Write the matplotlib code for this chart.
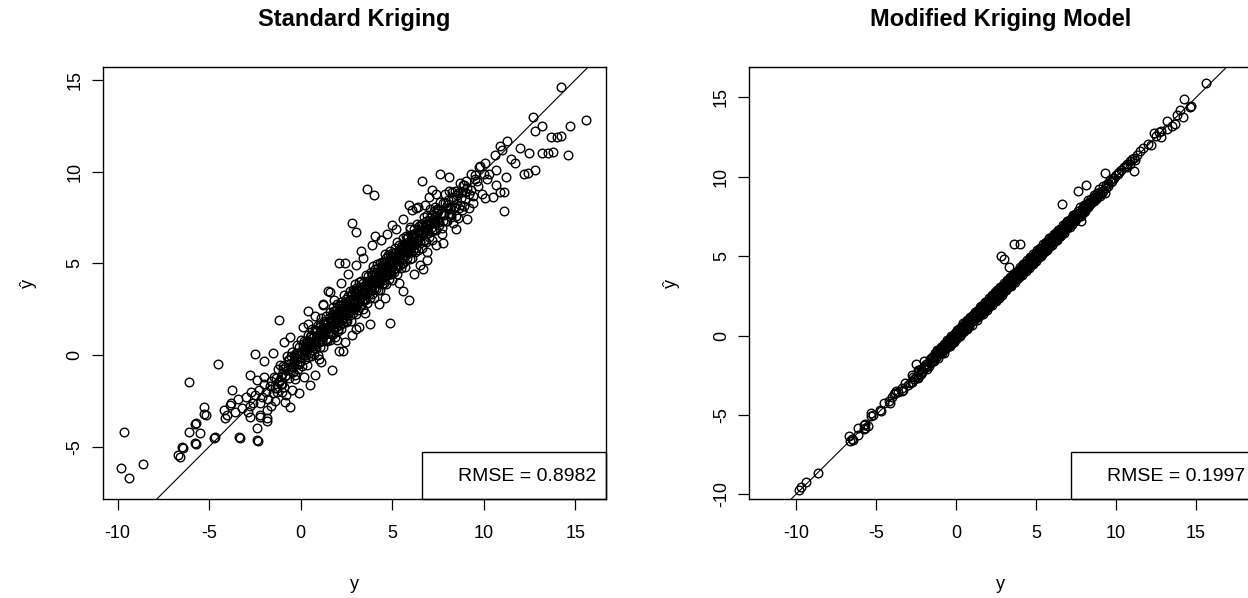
import numpy as np
import matplotlib.pyplot as plt
from matplotlib.patches import Rectangle

plt.rcParams['font.family'] = ['Liberation Sans', 'DejaVu Sans']
plt.rcParams['axes.unicode_minus'] = False

# ===================== Dados =====================
# pontos afastados da diagonal: y observado, y previsto (padrao), y previsto (modificado)
OUT_Y = [15.6, 14.23, 14.7, 12.7, 12.8, 13.2, 13.7, 14.0, 14.2, 12.0,
         12.5, 13.2, 13.5, 13.8, 14.6, 12.2, 12.4, 12.8, 11.1, 11.3,
         10.9, 11.5, 11.7, 11.2, 9.9, 10.1, 10.5, 10.9, 11.1,
         6.65, 7.6, 8.1, 7.4, 5.9, 6.4, 9.8, 10.1, 10.7, 10.2,
         7.8, 8.5, 9.1, 4.7, 10.6, 11.0, 10.3, 10.7, 9.5, 9.3,
         9.7, 10.0, 8.9, 9.0, 9.4, 8.7, 8.2, 8.0, 8.8,
         3.6, 4.0, 2.8, 3.0, 2.1, 2.4, -1.2, -2.5, -1.5, 4.05,
         5.9, 4.9, 6.9, 1.5, 3.3, 5.2, 6.3, 6.7, 6.5, 3.8,
         3.2, 2.4, 2.1, 1.2, 0.4,
         -4.5, -6.1, -2.0, -3.76, -5.3, -5.2, -5.7, -6.1, -5.5, -5.7,
         -6.5, -6.7, -4.7, -4.2, -3.86, -4.13, -3.35, -2.4, -2.4, -2.76,
         -2.2, -1.85, -0.6, 0.5, 1.7, 1.6, 0.4, 1.2, 1.96, 2.3,
         3.05, -2.76, -2.4, -9.67, -9.8, -9.36, -8.64, -6.6, -6.45, -5.76,
         -5.76, -5.3, -4.73, -4.0, -3.6, -3.8, -3.3, -2.35, -1.82, -2.76,
         -2.2, -1.85, -2.6, -0.86,
         -2.5, -2.3, -2.1, -1.9, -1.7, -1.5, -1.3, -2.0, -1.8, -1.6,
         -1.2, -2.2, -1.4, -1.0, -1.1, -2.7, -3.0, -3.2, -2.9, -1.6,
         -1.0, -0.8, -0.5, -0.3, -0.1, 0.2, 0.8, 1.1, -3.4, -2.0,
         -0.9, -0.6, 0.1, 0.8, 1.8, 2.2, 2.6, 3.0, 3.4, 3.9,
         4.4, 5.0, 5.6, 6.1, 7.0, 7.2, 6.8, 6.0, 1.0, 2.8,
         3.5, 4.3, 4.6, 5.4, 5.6, 6.2, 6.9, 7.4, 7.7, 8.3,
         8.6, 9.2]

OUT_STD = [12.8, 14.64, 12.5, 13.0, 12.2, 12.5, 11.9, 11.9, 11.95, 11.3,
           11.0, 11.0, 11.0, 11.1, 10.9, 9.9, 9.95, 10.1, 7.86, 11.7,
           11.4, 10.7, 10.5, 9.7, 8.8, 8.55, 8.6, 8.9, 8.9,
           9.5, 9.9, 9.7, 8.8, 8.2, 8.1, 10.3, 10.5, 10.1, 9.6,
           6.1, 6.9, 7.4, 6.6, 10.9, 11.2, 9.9, 9.3, 9.6, 9.0,
           9.2, 9.9, 9.3, 8.5, 8.3, 8.2, 7.7, 7.3, 7.9,
           9.06, 8.73, 7.2, 6.7, 5.0, 5.0, 1.9, 0.04, 0.1, 6.5,
           3.0, 1.76, 5.2, 3.5, 5.7, 6.9, 8.0, 4.7, 4.9, 1.7,
           1.5, 0.7, 0.2, 2.8, 2.4,
           -0.5, -1.5, -0.33, -1.9, -2.85, -3.27, -3.73, -4.18, -4.27, -4.86,
           -5.04, -5.46, -4.5, -3.0, -2.73, -3.45, -4.46, -4.64, -4.0, -2.8,
           -3.4, -3.45, -2.85, -1.64, -0.8, 3.45, 1.7, 2.7, 0.8, 0.2,
           1.4, -1.1, -1.36, -4.18, -6.15, -6.73, -5.95, -5.55, -5.09, -3.76,
           -4.82, -3.22, -4.55, -3.27, -3.1, -2.6, -4.55, -4.7, -3.58, -3.37,
           -3.27, -3.0, -2.64, -2.55,
           -2.2, -1.9, -2.3, -2.0, -1.7, -2.1, -1.8, -1.6, -2.4, -1.4,
           -1.5, -2.6, -2.5, -2.0, -1.2, -2.0, -2.3, -2.9, -3.1, -2.8,
           -1.6, -2.2, -1.9, -1.3, -2.1, -1.2, -1.1, -0.4, -2.4, -1.2,
           0.7, 1.0, 1.5, 2.1, 3.0, 3.9, 4.4, 4.9, 5.3, 6.0,
           6.3, 7.1, 7.4, 7.9, 8.6, 9.0, 8.2, 7.0, -0.2, 1.1,
           2.3, 2.8, 3.1, 3.9, 3.5, 4.4, 5.6, 6.0, 6.6, 7.2,
           7.5, 8.0]

OUT_MOD = [15.9, 14.9, 14.45, 12.8, 12.9, 13.0, 13.3, 14.2, 13.75, 12.1,
           12.6, 13.5, 13.2, 13.9, 14.4, 12.0, 12.75, 12.5, 10.35, 11.4,
           11.0, 11.6, 11.8, 11.05, 9.95, 10.2, 10.6, 10.8, 11.2,
           8.3, 9.1, 9.5, 7.6, 6.1, 6.5, 9.9, 10.25, 10.8, 10.3,
           7.2, 8.4, 9.0, 4.8, 10.7, 11.1, 10.4, 10.6, 9.6, 10.27,
           9.7, 10.1, 9.0, 8.95, 9.3, 8.65, 8.1, 7.9, 8.7,
           5.75, 5.75, 5.0, 4.8, 2.3, 2.6, -1.0, -1.8, -1.4, 4.2,
           5.7, 4.7, 6.8, 1.7, 4.35, 5.3, 6.4, 6.6, 6.3, 3.6,
           3.0, 2.2, 1.9, 1.4, 0.6,
           -4.25, -5.85, -1.6, -3.5, -4.9, -5.0, -5.6, -6.25, -5.7, -5.85,
           -6.55, -6.3, -4.75, -4.1, -3.7, -4.25, -3.5, -2.7, -2.6, -2.9,
           -2.4, -2.0, -0.8, 0.3, 1.5, 1.8, 0.5, 1.3, 1.8, 2.1,
           2.9, -2.5, -2.2, -9.54, -9.75, -9.23, -8.67, -6.67, -6.58, -5.63,
           -5.9, -5.06, -4.69, -3.85, -3.54, -3.6, -3.44, -2.5, -2.1, -2.9,
           -2.3, -1.9, -2.75, -1.0,
           -2.6, -2.2, -2.3, -1.8, -1.9, -1.6, -1.2, -2.1, -1.9, -1.5,
           -1.3, -2.1, -1.6, -1.1, -1.0, -2.6, -3.1, -3.0, -3.0, -1.7,
           -0.9, -0.9, -0.6, -0.2, -0.3, 0.1, 0.7, 1.0, -3.3, -1.9,
           -0.8, -0.5, 0.2, 0.9, 1.9, 2.3, 2.7, 3.1, 3.5, 4.0,
           4.5, 5.1, 5.7, 6.2, 7.1, 7.3, 6.9, 6.1, 0.9, 2.7,
           3.4, 4.2, 4.5, 5.3, 5.5, 6.1, 6.8, 7.3, 7.6, 8.2,
           8.5, 9.1]

# nucleo denso ao longo da diagonal: y observado e residuos de cada modelo
CORE_Y = [-1.48, -1.42, -1.37, -1.31, -1.25, -1.2, -1.14, -1.09, -1.03, -0.98,
          -0.93, -0.88, -0.83, -0.77, -0.72, -0.68, -0.63, -0.59, -0.55, -0.51,
          -0.48, -0.45, -0.41, -0.38, -0.35, -0.31, -0.28, -0.24, -0.21, -0.18,
          -0.14, -0.11, -0.07, -0.04, -0.01, 0.03, 0.06, 0.09, 0.13, 0.16,
          0.2, 0.23, 0.26, 0.3, 0.33, 0.37, 0.4, 0.43, 0.46, 0.49,
          0.52, 0.55, 0.58, 0.61, 0.63, 0.66, 0.69, 0.72, 0.75, 0.78,
          0.81, 0.83, 0.86, 0.89, 0.92, 0.95, 0.98, 1.01, 1.03, 1.06,
          1.09, 1.12, 1.15, 1.18, 1.21, 1.23, 1.26, 1.29, 1.32, 1.35,
          1.38, 1.41, 1.43, 1.46, 1.49,
          1.52, 1.54, 1.57, 1.59, 1.62, 1.64, 1.67, 1.69, 1.72, 1.74,
          1.77, 1.79, 1.82, 1.84, 1.87, 1.89, 1.92, 1.94, 1.97, 1.99,
          2.02, 2.04, 2.07, 2.09, 2.12, 2.14, 2.17, 2.19, 2.22, 2.24,
          2.27, 2.29, 2.32, 2.34, 2.37, 2.39, 2.42, 2.44, 2.47, 2.49,
          2.52, 2.55, 2.57, 2.6, 2.62, 2.65, 2.67, 2.7, 2.72, 2.75,
          2.77, 2.8, 2.82, 2.85, 2.87, 2.9, 2.92, 2.95, 2.97, 3.0,
          3.02, 3.05, 3.07, 3.1, 3.12, 3.15, 3.17, 3.2, 3.22, 3.25,
          3.27, 3.3, 3.32, 3.35, 3.37, 3.4, 3.42, 3.45, 3.47, 3.5,
          3.53, 3.55, 3.58, 3.6, 3.63, 3.65, 3.68, 3.7, 3.73, 3.75,
          3.78, 3.8, 3.83, 3.85, 3.88, 3.9, 3.93, 3.95, 3.98, 4.0,
          4.03, 4.05, 4.08, 4.1, 4.13, 4.15, 4.18, 4.2, 4.23, 4.25,
          4.28, 4.3, 4.33, 4.35, 4.38, 4.4, 4.43, 4.45, 4.47, 4.49,
          4.51, 4.54, 4.56, 4.59, 4.61, 4.64, 4.66, 4.69, 4.71, 4.74,
          4.76, 4.79, 4.81, 4.84, 4.86, 4.89, 4.91, 4.94, 4.96, 4.99,
          5.01, 5.04, 5.06, 5.09, 5.11, 5.14, 5.16, 5.19, 5.21, 5.24,
          5.26, 5.29, 5.31, 5.34, 5.36, 5.39, 5.41, 5.44, 5.46, 5.49,
          5.52, 5.55, 5.58, 5.61, 5.63, 5.66, 5.69, 5.72, 5.75, 5.78,
          5.81, 5.83, 5.86, 5.89, 5.92, 5.95, 5.98, 6.01, 6.03, 6.06,
          6.09, 6.12, 6.15, 6.18, 6.21, 6.23, 6.26, 6.29, 6.32, 6.35,
          6.38, 6.41, 6.43, 6.46, 6.49,
          6.53, 6.56, 6.6, 6.63, 6.66, 6.7, 6.73, 6.76, 6.8, 6.83,
          6.86, 6.9, 6.93, 6.96, 7.0, 7.03, 7.06, 7.1, 7.13, 7.16,
          7.2, 7.23, 7.26, 7.3, 7.33, 7.36, 7.4, 7.43, 7.46, 7.49,
          7.53, 7.58, 7.63, 7.68, 7.73, 7.78, 7.83, 7.88, 7.93, 7.98,
          8.03, 8.08, 8.13, 8.18, 8.23, 8.28, 8.33, 8.38, 8.43, 8.48,
          8.55, 8.63, 8.7, 8.78, 8.86, 8.93, 9.01, 9.1, 9.2, 9.3,
          9.4, 9.5, 9.62, 9.75]

CORE_STD_RES = [0.3, -0.4, 0.1, -0.7, 0.5, -0.2, 0.6, -0.5, 0.0, 0.4,
                -0.8, 0.2, -0.3, 0.7, -0.1, 0.4, -0.6, 0.1, 0.5, -0.3,
                -0.2, 0.6, -0.5, 0.3, 0.0, -0.8, 0.4, 0.1, -0.3, 0.7,
                -0.6, 0.2, 0.5, -0.1, -0.4, 0.8, 0.0, -0.7, 0.3, 0.6,
                -0.2, 0.1, -0.5, 0.4, -0.9, 0.2, 0.7, -0.3, 0.0, 0.5,
                0.2, -0.6, 0.5, -0.1, 0.8, -0.4, 0.0, 0.3, -0.7, 0.6,
                -0.2, 0.1, -0.5, 0.4, -0.9, 0.7, 0.0, -0.3, 0.5, -0.6,
                0.2, 0.9, -0.1, -0.4, 0.3, -0.8, 0.6, 0.1, -0.2, 0.4,
                -0.5, 0.7, 0.0, -0.7, 0.3,
                -0.3, 0.5, 0.0, -0.8, 0.7, 0.2, -0.5, 0.4, -0.1, 0.9,
                -0.6, 0.1, 0.6, -0.4, 0.3, -0.9, 0.0, 0.5, -0.2, 0.8,
                -0.7, 0.2, 0.4, -0.3, 0.6, -0.5, 0.1, 0.7, -0.8, 0.3,
                -0.1, 0.5, -0.6, 0.0, 0.9, -0.4, 0.2, -0.2, 0.6, -0.7,
                0.4, -0.7, 0.1, 0.6, -0.3, 0.0, 0.8, -0.5, 0.3, -0.9,
                0.5, -0.2, 0.2, 0.7, -0.6, 0.1, -0.4, 0.9, -0.1, 0.4,
                -0.8, 0.6, 0.0, -0.3, 0.5, -0.7, 0.3, 0.8, -0.5, -0.1,
                0.2, -0.6, 0.7, 0.0, -0.4, 0.5, -0.9, 0.3, 0.1, -0.2,
                -0.5, 0.2, 0.8, -0.2, 0.4, -0.8, 0.1, 0.6, -0.4, 0.3,
                0.0, -0.7, 0.7, -0.1, 0.5, -0.6, 0.2, 0.9, -0.3, 0.4,
                -0.9, 0.1, 0.6, -0.5, 0.3, 0.8, -0.2, 0.0, -0.7, 0.5,
                0.2, -0.4, 0.7, -0.8, 0.1, 0.4, -0.1, 0.6, -0.6, 0.3,
                0.1, -0.6, 0.5, 0.9, -0.3, 0.2, -0.8, 0.6, 0.0, -0.4,
                0.7, -0.1, 0.3, -0.7, 0.4, 0.8, -0.5, 0.1, -0.2, 0.6,
                -0.9, 0.3, 0.0, 0.5, -0.6, 0.2, 0.7, -0.3, 0.4, -0.8,
                0.1, 0.9, -0.4, 0.2, -0.1, 0.6, -0.5, 0.3, -0.7, 0.0,
                0.5, -0.2, 0.8, -0.6, 0.1, 0.4, -0.9, 0.3, -0.1, 0.7,
                -0.5, 0.0, 0.6, -0.3, 0.2, -0.7, 0.9, 0.1, -0.4, 0.5,
                -0.8, 0.3, 0.0, 0.7, -0.2, -0.6, 0.4, 0.1, -0.5, 0.8,
                -0.1, 0.3, -0.7, 0.6, 0.2,
                -0.4, 0.6, 0.1, -0.8, 0.4, -0.1, 0.8, -0.5, 0.2, 0.5,
                -0.7, 0.0, 0.7, -0.3, 0.3, -0.6, 0.9, 0.1, -0.2, 0.5,
                -0.9, 0.2, 0.6, -0.4, 0.0, 0.7, -0.6, 0.3, -0.1, 0.4,
                0.3, -0.5, 0.7, 0.0, -0.8, 0.5, -0.2, 0.9, -0.6, 0.2,
                0.4, -0.4, 0.8, -0.1, -0.7, 0.6, 0.1, -0.3, 0.5, -0.9,
                0.2, -0.6, 0.7, -0.2, 0.4, -0.8, 0.5, 0.0, -0.4, 0.6,
                -0.7, 0.3, -0.1, 0.5]

CORE_MOD_RES = [0.1, -0.2, 0.0, 0.2, -0.1, 0.3, -0.3, 0.1, -0.1, 0.0,
                0.2, -0.2, 0.1, -0.3, 0.2, 0.0, -0.1, 0.3, -0.2, 0.1,
                0.0, 0.2, -0.1, -0.3, 0.1, 0.3, -0.2, 0.0, 0.2, -0.1,
                0.1, -0.3, 0.2, 0.0, -0.2, 0.1, 0.3, -0.1, 0.0, -0.2,
                0.2, 0.1, -0.3, 0.0, 0.2, -0.1, 0.1, -0.2, 0.3, 0.0,
                -0.1, 0.2, 0.0, -0.2, 0.1, 0.3, -0.3, 0.1, -0.1, 0.2,
                0.0, -0.2, 0.3, -0.1, 0.1, 0.0, -0.3, 0.2, -0.1, 0.1,
                0.0, 0.2, -0.2, 0.3, -0.1, 0.0, 0.1, -0.3, 0.2, -0.1,
                0.0, 0.2, -0.2, 0.1, 0.3,
                0.2, -0.1, 0.0, 0.3, -0.2, 0.1, -0.3, 0.0, 0.2, -0.1,
                0.1, 0.3, -0.2, 0.0, -0.1, 0.2, 0.1, -0.3, 0.0, 0.2,
                -0.2, 0.1, 0.3, -0.1, 0.0, -0.2, 0.2, 0.1, -0.3, 0.0,
                0.3, -0.1, 0.1, -0.2, 0.0, 0.2, -0.1, 0.3, -0.3, 0.1,
                -0.2, 0.1, 0.3, 0.0, -0.1, 0.2, -0.3, 0.1, 0.0, -0.2,
                0.3, -0.1, 0.2, 0.0, -0.3, 0.1, -0.1, 0.2, 0.0, 0.3,
                -0.2, 0.1, -0.1, 0.0, 0.2, -0.3, 0.1, 0.3, -0.1, 0.0,
                0.2, -0.2, 0.1, -0.1, 0.3, 0.0, -0.3, 0.2, -0.1, 0.1,
                0.0, 0.3, -0.2, 0.1, -0.1, 0.2, 0.0, -0.3, 0.3, 0.1,
                -0.2, 0.0, 0.2, -0.1, 0.1, -0.3, 0.0, 0.2, -0.2, 0.3,
                0.1, -0.1, 0.0, 0.2, -0.3, 0.1, -0.1, 0.3, 0.0, -0.2,
                0.2, 0.1, -0.1, 0.0, -0.3, 0.2, 0.3, -0.2, 0.1, 0.0,
                0.1, -0.3, 0.2, 0.0, -0.1, 0.3, -0.2, 0.1, 0.0, 0.2,
                -0.1, -0.3, 0.3, 0.1, 0.0, -0.2, 0.2, -0.1, 0.1, 0.0,
                -0.3, 0.2, 0.3, -0.1, 0.0, 0.1, -0.2, 0.2, -0.1, 0.3,
                0.0, -0.3, 0.1, 0.2, -0.2, 0.0, 0.1, -0.1, 0.3, -0.2,
                -0.1, 0.2, 0.0, 0.3, -0.2, 0.1, -0.3, 0.0, 0.2, -0.1,
                0.1, 0.3, -0.2, 0.0, 0.2, -0.1, -0.3, 0.1, 0.0, 0.2,
                -0.2, 0.3, 0.1, -0.1, 0.0, -0.2, 0.2, 0.1, -0.3, 0.0,
                0.3, -0.1, 0.1, 0.0, -0.2,
                0.2, 0.0, -0.2, 0.1, 0.3, -0.1, 0.0, -0.3, 0.2, 0.1,
                -0.1, 0.0, 0.3, -0.2, 0.1, 0.2, -0.1, 0.0, -0.3, 0.2,
                0.1, -0.2, 0.0, 0.3, -0.1, 0.1, 0.2, -0.2, 0.0, -0.1,
                0.1, -0.2, 0.2, 0.0, -0.1, 0.3, -0.3, 0.1, 0.0, -0.2,
                0.2, 0.1, -0.1, 0.0, 0.3, -0.2, 0.1, -0.1, 0.2, 0.0,
                -0.1, 0.2, 0.0, -0.2, 0.1, 0.3, -0.1, 0.0, 0.2, -0.3,
                0.1, -0.1, 0.2, 0.0]

# segundo lote do nucleo, onde a nuvem e mais escura
CORE2_Y = [-0.95, -0.8, -0.66, -0.52, -0.37, -0.22, -0.08, 0.05, 0.12, 0.19,
           0.27, 0.34, 0.41, 0.47, 0.56, 0.63, 0.71, 0.77, 0.84, 0.92,
           0.99, 1.07, 1.13, 1.2, 1.28, 1.36, 1.42, 1.5, 1.57, 1.63,
           1.71, 1.78, 1.86, 1.93, 2.01, 2.08, 2.15, 2.23, 2.31, 2.38,
           2.45, 2.53, 2.6, 2.68, 2.74, 2.81, 2.89, 2.96, 3.04, 3.11,
           3.18, 3.26, 3.33, 3.41, 3.48, 3.55, 3.62, 3.7, 3.77, 3.84,
           3.92, 3.99, 4.06, 4.14, 4.21, 4.29, 4.36, 4.43, 4.51, 4.58,
           4.65, 4.73, 4.8, 4.88, 4.95, 5.02, 5.1, 5.17, 5.25, 5.32,
           5.39, 5.47, 5.54, 5.61, 5.69, 5.76, 5.84, 5.91, 5.98, 6.06,
           6.13, 6.21, 6.28, 6.35, 6.43, 6.5, 6.57, 6.65, 6.72, 6.8,
           6.87, 6.94, 7.02, 7.09, 7.17, 7.24, 7.31, 7.39, 7.46, 7.55,
           7.66, 7.79, 7.91, 8.04, 8.17, 8.31, 8.46, 8.62, 8.8, 9.0,
           1.04, 1.46, 1.82, 2.27, 2.64, 3.07, 3.52, 3.88, 4.33, 4.69,
           5.06, 5.43, 5.8, 6.17, 6.54, 0.68, 2.02, 3.3, 4.47, 5.58,
           1.25, 2.5, 3.75, 4.9, 6.0, 0.3, 1.6, 2.9, 4.1, 5.3]

CORE2_STD_RES = [0.2, -0.3, 0.4, -0.1, 0.0, 0.3, -0.4, 0.1, 0.5, -0.2,
                 0.0, 0.4, -0.5, 0.2, -0.1, 0.3, 0.0, -0.4, 0.5, 0.1,
                 -0.3, 0.2, 0.0, -0.2, 0.4, -0.5, 0.1, 0.3, -0.1, 0.0,
                 0.5, -0.3, 0.2, -0.4, 0.1, 0.0, 0.3, -0.2, 0.4, -0.1,
                 -0.5, 0.2, 0.0, 0.3, -0.3, 0.1, -0.1, 0.5, -0.4, 0.2,
                 0.0, -0.2, 0.4, 0.1, -0.5, 0.3, -0.1, 0.0, 0.2, -0.3,
                 0.5, -0.4, 0.1, 0.0, 0.3, -0.2, 0.2, -0.1, 0.4, -0.5,
                 0.1, 0.0, -0.3, 0.5, -0.2, 0.2, 0.3, -0.4, 0.0, 0.1,
                 -0.1, 0.4, -0.5, 0.2, 0.0, -0.3, 0.3, 0.1, -0.2, 0.5,
                 -0.4, 0.0, 0.2, -0.1, 0.4, -0.3, 0.1, 0.5, -0.5, 0.0,
                 0.3, -0.2, 0.1, 0.4, -0.4, 0.0, -0.1, 0.2, 0.5, -0.3,
                 0.1, -0.5, 0.4, 0.0, -0.2, 0.3, -0.4, 0.2, 0.1, -0.1,
                 0.6, -0.6, 0.3, -0.3, 0.0, 0.5, -0.5, 0.2, -0.2, 0.4,
                 -0.4, 0.1, 0.6, -0.1, 0.3, 0.0, -0.6, 0.4, -0.3, 0.2,
                 0.5, -0.2, 0.1, -0.5, 0.0, 0.3, -0.4, 0.6, -0.1, 0.2]

CORE2_MOD_RES = [0.1, -0.1, 0.0, 0.2, -0.2, 0.1, 0.0, -0.1, 0.2, 0.0,
                 -0.2, 0.1, 0.0, -0.1, 0.2, -0.1, 0.1, 0.0, -0.2, 0.1,
                 0.0, 0.2, -0.1, 0.1, -0.2, 0.0, 0.1, -0.1, 0.2, 0.0,
                 -0.1, 0.1, 0.0, 0.2, -0.2, 0.1, -0.1, 0.0, 0.1, -0.2,
                 0.2, 0.0, -0.1, 0.1, 0.0, -0.2, 0.2, -0.1, 0.0, 0.1,
                 -0.1, 0.0, 0.2, -0.2, 0.1, 0.0, -0.1, 0.2, 0.0, -0.1,
                 0.1, -0.2, 0.0, 0.1, -0.1, 0.2, 0.0, -0.2, 0.1, 0.0,
                 0.2, -0.1, 0.1, 0.0, -0.2, 0.1, -0.1, 0.2, 0.0, -0.1,
                 0.0, 0.1, -0.2, 0.2, -0.1, 0.0, 0.1, -0.1, 0.2, 0.0,
                 -0.2, 0.1, 0.0, -0.1, 0.2, -0.2, 0.0, 0.1, -0.1, 0.1,
                 0.0, 0.2, -0.1, 0.0, 0.1, -0.2, 0.2, 0.0, -0.1, 0.1,
                 -0.1, 0.0, 0.2, -0.2, 0.1, 0.0, -0.1, 0.1, 0.2, -0.2,
                 0.1, 0.0, -0.1, 0.2, -0.2, 0.0, 0.1, -0.1, 0.0, 0.2,
                 -0.1, 0.1, 0.0, -0.2, 0.2, 0.1, -0.1, 0.0, 0.1, -0.2,
                 0.0, 0.2, -0.1, 0.1, 0.0, -0.2, 0.1, -0.1, 0.2, 0.0]

X_TICKS = [-10, -5, 0, 5, 10, 15]

core_y = np.array(CORE_Y)
core2_y = np.array(CORE2_Y)
y_obs = np.concatenate([OUT_Y, core_y, core2_y])
pred_std = np.concatenate([OUT_STD, core_y + np.array(CORE_STD_RES),
                           core2_y + np.array(CORE2_STD_RES)])
pred_mod = np.concatenate([OUT_MOD, core_y + np.array(CORE_MOD_RES),
                           core2_y + np.array(CORE2_MOD_RES)])

# ===================== Figura =====================
W, H = 1248, 598
fig = plt.figure(figsize=(W / 100, H / 100), dpi=100)


def painel(px, xlim, ylim, yticks, pred, titulo, rmse, leg_left, leg_top, ylab_x):
    # px = (esquerda, topo, direita, base) em pixels da figura
    x0, y0, x1, y1 = px
    ax = fig.add_axes([x0 / W, 1 - y1 / H, (x1 - x0) / W, (y1 - y0) / H])
    ax.plot(y_obs, pred, 'o', ms=6.2, mfc='none', mec='black', mew=1.0)
    ax.axline((0, 0), slope=1, color='black', lw=0.8)
    ax.set_xlim(xlim)
    ax.set_ylim(ylim)
    ax.set_xticks(X_TICKS)
    ax.set_yticks(yticks)
    ax.tick_params(length=8, width=0.9, labelsize=13)
    ax.tick_params(axis='x', pad=11)
    ax.tick_params(axis='y', pad=6)
    for lab in ax.get_yticklabels():
        lab.set_rotation(90)
        lab.set_va('center')
    for s in ax.spines.values():
        s.set_linewidth(1.0)

    # caixa do RMSE (canto inferior direito)
    bx = (leg_left - x0) / (x1 - x0)
    bh = (y1 - leg_top) / (y1 - y0)
    ax.add_patch(Rectangle((bx, 0), 1 - bx, bh, transform=ax.transAxes,
                           fill=False, edgecolor='black', lw=1.0, clip_on=False))
    ax.text(bx + 36 / (x1 - x0), bh / 2 * 0.95, 'RMSE = ' + rmse, transform=ax.transAxes,
            fontsize=14, ha='left', va='center')

    cx = (x0 + x1) / 2
    fig.text(cx / W, 1 - 19.5 / H, titulo, ha='center', va='center',
             fontsize=17, fontweight='bold')
    fig.text(cx / W, 1 - 589 / H, 'y', ha='center', va='baseline', fontsize=13)
    fig.text(ylab_x / W, 1 - 283 / H, 'ŷ', ha='center', va='center',
             fontsize=13, rotation=90)
    return ax


painel((102.7, 66.7, 605.7, 499), (-10.82, 16.67), (-7.86, 15.73), [-5, 0, 5, 10, 15],
       pred_std, 'Standard Kriging', '0.8982', 422.3, 452.3, 28)
painel((749.3, 66.7, 1252, 499), (-12.92, 18.5), (-10.3, 16.94), [-10, -5, 0, 5, 10, 15],
       pred_mod, 'Modified Kriging Model', '0.1997', 1071, 451.7, 671)

plt.savefig('out.png', dpi=100)
plt.close()
